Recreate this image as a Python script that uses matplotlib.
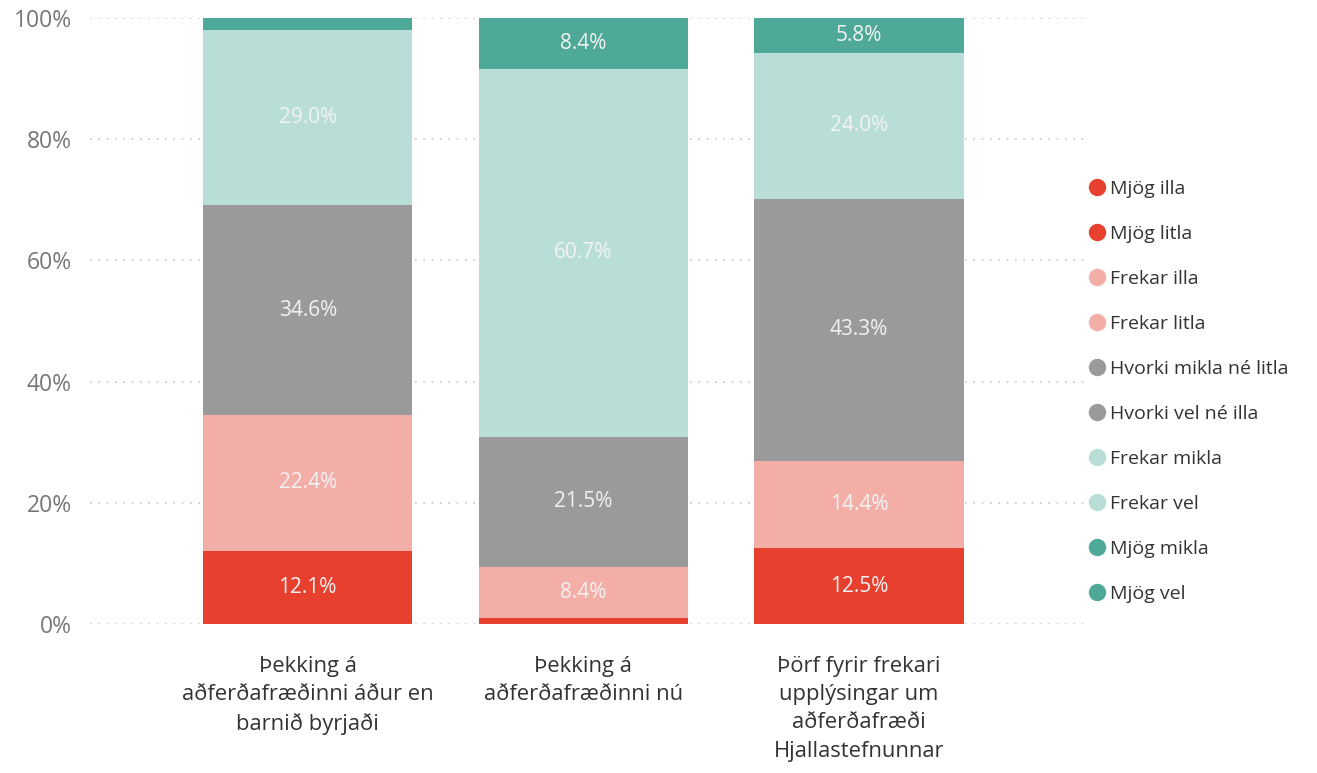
import matplotlib
matplotlib.use("Agg")
import matplotlib.pyplot as plt
from matplotlib.lines import Line2D
import numpy as np

plt.rcParams['font.family'] = ['Open Sans', 'DejaVu Sans']

categories = [
    "Þekking á\naðferðafræðinni áður en\nbarnið byrjaði",
    "Þekking á\naðferðafræðinni nú",
    "Þörf fyrir frekari\nupplýsingar um\naðferðafræði\nHjallastefnunnar",
]

series_names = ["Mjög illa", "Mjög litla", "Frekar illa", "Frekar litla",
                "Hvorki mikla né litla", "Hvorki vel né illa",
                "Frekar mikla", "Frekar vel", "Mjög mikla", "Mjög vel"]
series_colors = ["#E8402F", "#E8402F", "#F4AEA8", "#F4AEA8",
                 "#9A9A9A", "#9A9A9A", "#B8DED7", "#B8DED7", "#4FA998", "#4FA998"]

# values (%) per series for each category
mjog_illa = [0.0, 0.0, 0.0]
mjog_litla = [12.1, 1.0, 12.5]
frekar_illa = [0.0, 0.0, 0.0]
frekar_litla = [22.4, 8.4, 14.4]
hvorki_mikla = [34.6, 21.5, 43.3]
hvorki_vel = [0.0, 0.0, 0.0]
frekar_mikla = [29.0, 60.7, 24.0]
frekar_vel = [0.0, 0.0, 0.0]
mjog_mikla = [1.9, 8.4, 5.8]
mjog_vel = [0.0, 0.0, 0.0]

series_values = [mjog_illa, mjog_litla, frekar_illa, frekar_litla, hvorki_mikla,
                 hvorki_vel, frekar_mikla, frekar_vel, mjog_mikla, mjog_vel]

yticks = [0, 20, 40, 60, 80, 100]
ytick_labels = ["0%", "20%", "40%", "60%", "80%", "100%"]

W, H = 1317, 773
fig = plt.figure(figsize=(W / 100, H / 100), dpi=100)
ax = fig.add_axes([90 / W, 1 - 624 / H, (1085 - 90) / W, (624 - 18) / H])

x = np.arange(len(categories))
bottom = np.zeros(len(categories))
for name, color, vals in zip(series_names, series_colors, series_values):
    vals = np.array(vals)
    ax.bar(x, vals, bottom=bottom, width=0.76, color=color, zorder=3, linewidth=0)
    for xi, b, v in zip(x, bottom, vals):
        if v >= 3:
            ax.text(xi, b + v / 2, f"{v:.1f}%", ha="center", va="center",
                    color="#F3F3F3", fontsize=15, zorder=4)
    bottom += vals

ax.set_xlim(-0.79, 2.82)
ax.set_ylim(0, 100)
ax.set_yticks(yticks)
ax.set_yticklabels(ytick_labels)
ax.set_xticks(x)
ax.set_xticklabels(categories, fontsize=15.8, color="#333333", linespacing=1.45, va="top")
ax.tick_params(axis="x", length=0, pad=23)
ax.tick_params(axis="y", length=0, pad=13, labelsize=16.5, labelcolor="#777777")
for s in ax.spines.values():
    s.set_visible(False)
ax.grid(axis="y", color="#C8C8C8", linestyle=(0, (1, 4)), linewidth=1.2, zorder=0)

handles = [Line2D([0], [0], marker="o", linestyle="", markersize=11.5,
                  markerfacecolor=c, markeredgecolor=c) for c in series_colors]
fig.legend(handles, series_names, loc="upper left",
           bbox_to_anchor=(1089 / W, 1 - 180 / H), frameon=False,
           fontsize=14, labelspacing=1.39, handletextpad=0.27, borderpad=0,
           borderaxespad=0, handlelength=0.8, labelcolor="#333333")

fig.savefig("out.png", dpi=100, facecolor="white")
